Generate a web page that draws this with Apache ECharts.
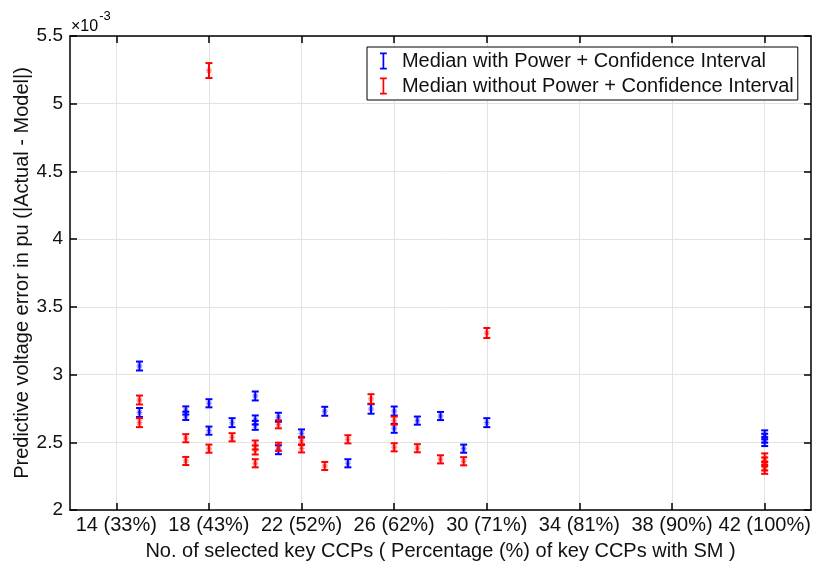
<!DOCTYPE html>
<html>
<head>
<meta charset="utf-8">
<script src="https://cdn.jsdelivr.net/npm/echarts@6/dist/echarts.min.js"></script>
<style>
html,body{margin:0;padding:0;background:#fff;}
#chart{width:813px;height:566px;}
</style>
</head>
<body>
<div id="chart"></div>
<script>
// x tick positions and labels
const tickValues = [14, 18, 22, 26, 30, 34, 38, 42];
const tickLabels = ['14 (33%)', '18 (43%)', '22 (52%)', '26 (62%)', '30 (71%)', '34 (81%)', '38 (90%)', '42 (100%)'];

// Median with Power (values in 1e-3 pu)
const withX   = [15, 15, 17, 17, 18, 18, 19, 20, 20, 20, 21, 21, 22, 23, 24, 25, 26, 26, 27, 28, 29, 30, 42, 42, 42];
const withMed = [3.063, 2.72, 2.735, 2.695, 2.788, 2.586, 2.645, 2.842, 2.665, 2.625, 2.685, 2.445, 2.565, 2.729, 2.345, 2.746, 2.731, 2.603, 2.66, 2.694, 2.453, 2.645, 2.555, 2.53, 2.505];
const withErr = [0.033, 0.033, 0.03, 0.03, 0.03, 0.03, 0.033, 0.033, 0.033, 0.033, 0.033, 0.033, 0.03, 0.033, 0.03, 0.035, 0.033, 0.033, 0.03, 0.03, 0.03, 0.033, 0.033, 0.033, 0.033];

// Median without Power (values in 1e-3 pu)
const woX   = [15, 15, 17, 17, 18, 18, 19, 20, 20, 20, 21, 21, 22, 22, 23, 24, 25, 26, 26, 27, 28, 29, 30, 42, 42, 42, 42];
const woMed = [2.812, 2.645, 2.53, 2.362, 5.245, 2.453, 2.537, 2.48, 2.443, 2.345, 2.633, 2.467, 2.51, 2.455, 2.325, 2.522, 2.82, 2.66, 2.463, 2.456, 2.374, 2.36, 3.307, 2.385, 2.355, 2.325, 2.30];
const woErr = [0.033, 0.033, 0.03, 0.03, 0.055, 0.03, 0.03, 0.033, 0.033, 0.03, 0.03, 0.03, 0.03, 0.03, 0.03, 0.03, 0.035, 0.03, 0.03, 0.03, 0.03, 0.03, 0.037, 0.033, 0.033, 0.033, 0.033];

function build(xs, meds, errs) {
  return xs.map((x, i) => [x, meds[i], meds[i] - errs[i], meds[i] + errs[i]]);
}

function renderItem(params, api) {
  const x = api.value(0), med = api.value(1), lo = api.value(2), hi = api.value(3);
  const pLo = api.coord([x, lo]), pHi = api.coord([x, hi]), pM = api.coord([x, med]);
  const color = api.visual('color');
  const w = 3.5;
  const st = { stroke: color, lineWidth: 2 };
  const mk = { stroke: color, lineWidth: 1.2, opacity: 0.45 };
  return {
    type: 'group',
    children: [
      { type: 'line', shape: { x1: pLo[0], y1: pLo[1], x2: pHi[0], y2: pHi[1] }, style: st },
      { type: 'line', shape: { x1: pLo[0] - w, y1: pLo[1], x2: pLo[0] + w, y2: pLo[1] }, style: st },
      { type: 'line', shape: { x1: pHi[0] - w, y1: pHi[1], x2: pHi[0] + w, y2: pHi[1] }, style: st },
      { type: 'line', shape: { x1: pM[0] - 3, y1: pM[1], x2: pM[0] + 3, y2: pM[1] }, style: mk },
      { type: 'line', shape: { x1: pM[0] - 2.2, y1: pM[1] - 2.2, x2: pM[0] + 2.2, y2: pM[1] + 2.2 }, style: mk },
      { type: 'line', shape: { x1: pM[0] - 2.2, y1: pM[1] + 2.2, x2: pM[0] + 2.2, y2: pM[1] - 2.2 }, style: mk }
    ]
  };
}

const FONT = 'Liberation Sans, Arial, sans-serif';
const FS = 20;
const chart = echarts.init(document.getElementById('chart'), null, { renderer: 'canvas' });
const barIcon = 'path://M0,0 H8 V2 H5 V18 H8 V20 H0 V18 H3 V2 H0 Z';

chart.setOption({
  animation: false,
  backgroundColor: '#fff',
  grid: { left: 70, right: 2, top: 36, bottom: 56, containLabel: false, outerBoundsMode: 'none' },
  legend: {
    orient: 'vertical',
    left: 367, top: 47,
    padding: [4, 4, 4, 13],
    itemGap: 5,
    itemWidth: 7, itemHeight: 17,
    borderColor: '#000', borderWidth: 1,
    backgroundColor: '#fff',
    icon: barIcon,
    textStyle: { fontFamily: FONT, fontSize: FS, color: '#111', padding: [0, 0, 0, 10] },
    data: ['Median with Power + Confidence Interval', 'Median without Power + Confidence Interval']
  },
  xAxis: [{
    type: 'value', min: 12, max: 44, position: 'bottom',
    name: 'No. of selected key CCPs ( Percentage (%) of key CCPs with SM )',
    nameLocation: 'middle', nameGap: 31, nameMoveOverlap: false,
    nameTextStyle: { fontFamily: FONT, fontSize: FS, color: '#111' },
    axisLine: { lineStyle: { color: '#000', width: 1.5 } },
    axisTick: { inside: true, length: 7, customValues: tickValues, lineStyle: { color: '#000', width: 1.5 } },
    axisLabel: {
      customValues: tickValues, margin: 5,
      fontFamily: FONT, fontSize: FS, color: '#111',
      formatter: v => tickLabels[tickValues.indexOf(v)] || ''
    },
    splitLine: { show: true, lineStyle: { color: '#e3e3e3', width: 1 } }
  }, {
    type: 'value', min: 12, max: 44, position: 'top',
    axisLine: { lineStyle: { color: '#000', width: 1.5 } },
    axisTick: { inside: true, length: 7, customValues: tickValues, lineStyle: { color: '#000', width: 1.5 } },
    axisLabel: { show: false },
    splitLine: { show: false }
  }],
  yAxis: [{
    type: 'value', min: 2, max: 5.5, interval: 0.5, position: 'left',
    name: 'Predictive voltage error in pu (|Actual - Model|)',
    nameLocation: 'middle', nameGap: 38, nameRotate: 90, nameMoveOverlap: false,
    nameTextStyle: { fontFamily: FONT, fontSize: FS, color: '#111' },
    axisLine: { show: true, lineStyle: { color: '#000', width: 1.5 } },
    axisTick: { show: true, inside: true, length: 7, lineStyle: { color: '#000', width: 1.5 } },
    axisLabel: { fontFamily: FONT, fontSize: 19, color: '#111', margin: 7, formatter: v => String(v) },
    splitLine: { show: true, lineStyle: { color: '#e3e3e3', width: 1 } }
  }, {
    type: 'value', min: 2, max: 5.5, interval: 0.5, position: 'right',
    axisLine: { show: true, lineStyle: { color: '#000', width: 1.5 } },
    axisTick: { show: true, inside: true, length: 7, lineStyle: { color: '#000', width: 1.5 } },
    axisLabel: { show: false },
    splitLine: { show: false }
  }],
  graphic: [{
    type: 'text', left: 71, top: 10,
    style: {
      text: '{a|×10}{b|-3}',
      rich: {
        a: { fontFamily: FONT, fontSize: 16, color: '#111', padding: [9, 0, 0, 0] },
        b: { fontFamily: FONT, fontSize: 13, color: '#111', verticalAlign: 'top', padding: [0, 0, 8, 1] }
      }
    }
  }],
  series: [{
    name: 'Median with Power + Confidence Interval',
    type: 'custom', renderItem: renderItem,
    itemStyle: { color: '#0000ff' },
    encode: { x: 0, y: [1, 2, 3] },
    data: build(withX, withMed, withErr), z: 3
  }, {
    name: 'Median without Power + Confidence Interval',
    type: 'custom', renderItem: renderItem,
    itemStyle: { color: '#ff0000' },
    encode: { x: 0, y: [1, 2, 3] },
    data: build(woX, woMed, woErr), z: 4
  }]
});
</script>
</body>
</html>
